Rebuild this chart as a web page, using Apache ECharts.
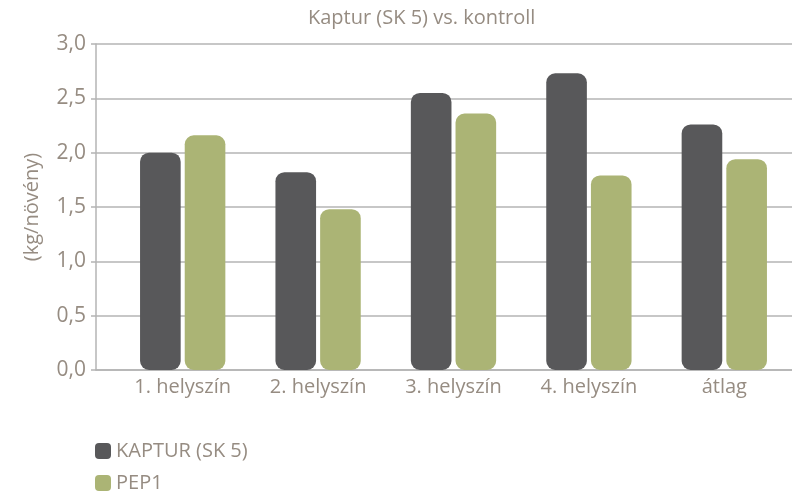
<!DOCTYPE html>
<html>
<head>
<meta charset="utf-8">
<script src="https://cdn.jsdelivr.net/npm/echarts@6/dist/echarts.min.js"></script>
<style>
	html, body { margin: 0; padding: 0; background: #fff; }
	#chart { width: 792px; height: 495px; }
</style>
</head>
<body>
<div id="chart"></div>
<script>
	// helyszínek
	const categories = ['1. helyszín', '2. helyszín', '3. helyszín', '4. helyszín', 'átlag']
	const kaptur = [2.00, 1.82, 2.55, 2.73, 2.26]
	const pep1 = [2.16, 1.48, 2.36, 1.79, 1.94]
	const yTicks = [0, 0.5, 1.0, 1.5, 2.0, 2.5, 3.0]

	const textColor = '#968c82'
	const lineColor = '#b4b4b4'
	const font = 'Open Sans'
	const fs = 20

	let chart = echarts.init(document.getElementById('chart'))

	chart.setOption({
		textStyle: { fontFamily: font },
		title: {
			text: 'Kaptur (SK 5) vs. kontroll',
			left: 308,
			top: 8,
			padding: 0,
			textStyle: { color: textColor, fontSize: fs, fontWeight: 'normal', fontFamily: font }
		},
		legend: {
			orient: 'vertical',
			left: 95,
			top: 441,
			height: 60,
			padding: 0,
			itemWidth: 16,
			itemHeight: 16,
			itemGap: 12,
			icon: 'roundRect',
			textStyle: { color: textColor, fontSize: fs, fontFamily: font },
			data: ['KAPTUR (SK 5)', 'PEP1']
		},
		grid: [
			// háttér: tengelyvonal + rácsvonalak
			{ left: 96, right: 0, top: 44, bottom: 125 },
			// oszlopok
			{ left: 115, right: -4, top: 44, bottom: 125 }
		],
		xAxis: [
			{
				type: 'value', gridIndex: 0, min: 0, max: 1,
				axisLine: { show: true, onZero: false, lineStyle: { color: lineColor, width: 1.5 } },
				axisTick: { show: false }, axisLabel: { show: false }, splitLine: { show: false }
			},
			{
				type: 'category', gridIndex: 1, data: categories,
				axisLine: { show: false }, axisTick: { show: false },
				axisLabel: { color: textColor, fontSize: fs, margin: 7, fontFamily: font }
			}
		],
		yAxis: [
			{
				type: 'value', gridIndex: 0,
				min: yTicks[0], max: yTicks[yTicks.length - 1], interval: 0.5,
				name: '(kg/növény)',
				nameLocation: 'middle',
				nameGap: 54,
				nameTextStyle: { color: textColor, fontSize: fs, fontFamily: font },
				axisLine: { show: true, lineStyle: { color: lineColor, width: 1.5 } },
				axisTick: { show: true, length: 5, lineStyle: { color: lineColor, width: 1.5 } },
				axisLabel: {
					color: textColor, fontSize: 21, margin: 10, fontFamily: font,
					formatter: v => v.toFixed(1).replace('.', ',')
				},
				splitLine: { show: true, lineStyle: { color: lineColor, width: 1.5 } }
			},
			{
				type: 'value', gridIndex: 1, min: 0, max: 3,
				show: false, splitLine: { show: false }
			}
		],
		series: [
			{
				name: 'KAPTUR (SK 5)', type: 'bar', xAxisIndex: 1, yAxisIndex: 1,
				data: kaptur, barWidth: '30%', barGap: '10%',
				itemStyle: { color: '#58585a', borderRadius: 9 }
			},
			{
				name: 'PEP1', type: 'bar', xAxisIndex: 1, yAxisIndex: 1,
				data: pep1, barWidth: '30%', barGap: '10%',
				itemStyle: { color: '#abb475', borderRadius: 9 }
			}
		]
	})
</script>
</body>
</html>
